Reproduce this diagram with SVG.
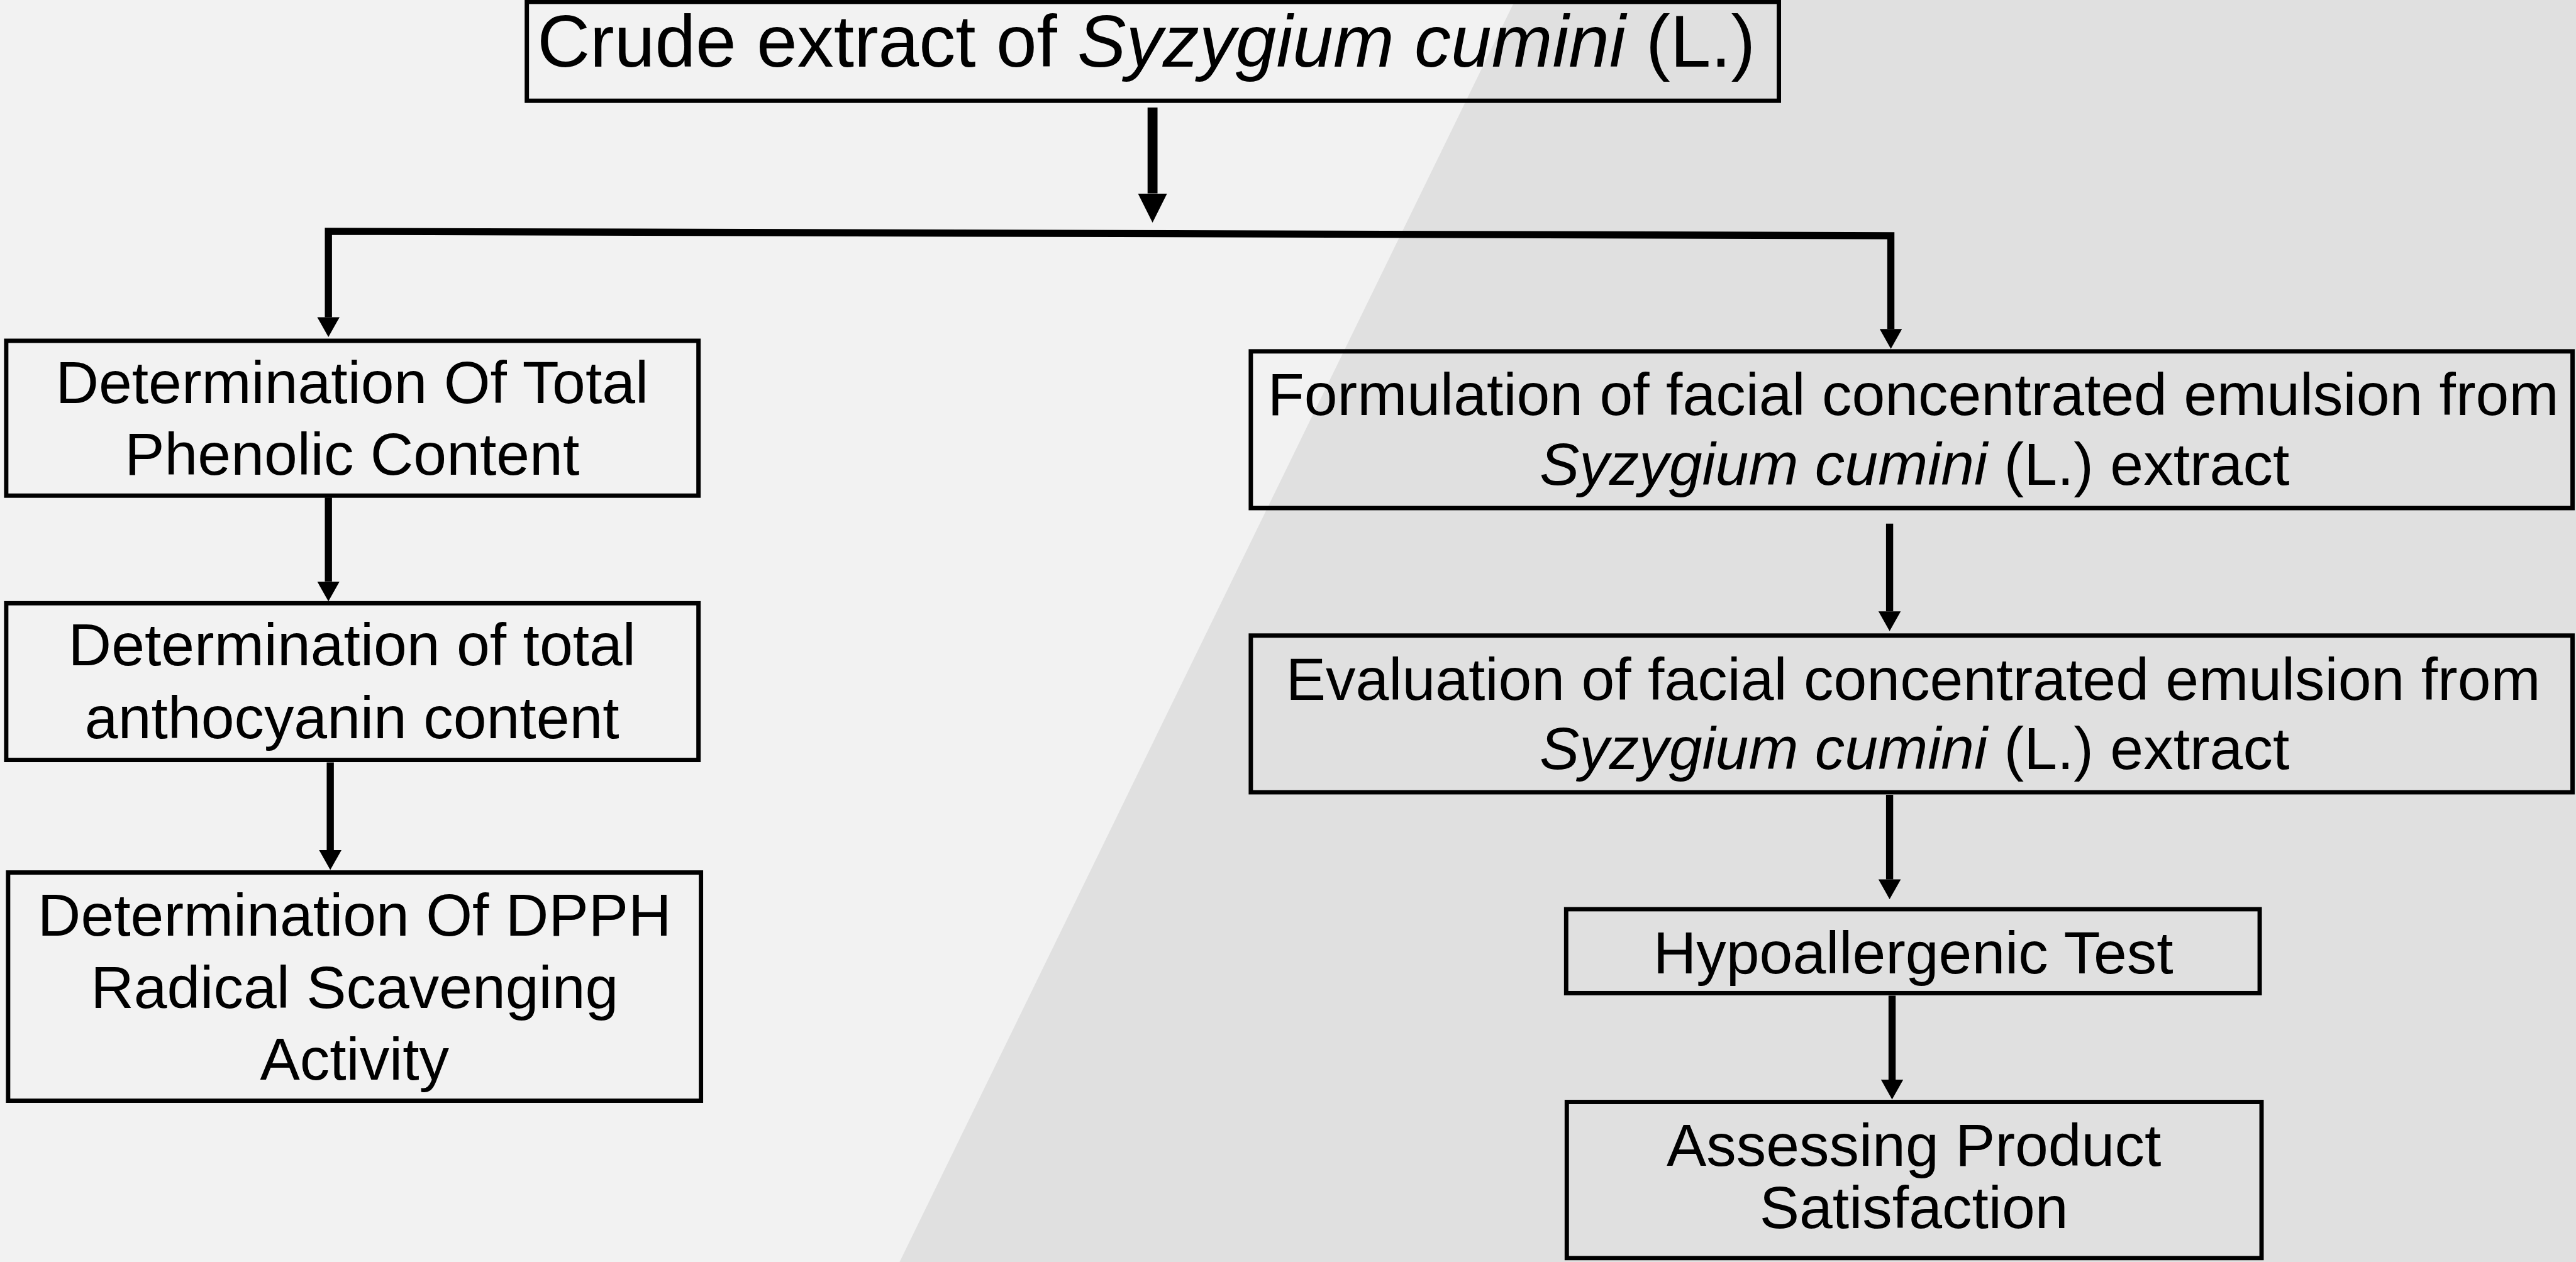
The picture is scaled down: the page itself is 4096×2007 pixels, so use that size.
<svg xmlns="http://www.w3.org/2000/svg" width="4096" height="2007" viewBox="0 0 4096 2007">
<style>
.box{fill:none;stroke:#000;stroke-width:7;stroke-linejoin:miter}
.t{font-family:"Liberation Sans",Arial,sans-serif;font-size:96px;fill:#000;text-anchor:middle}
.title{font-size:117.5px}
.i{font-style:italic}
.c{fill:none;stroke:#000;stroke-width:11.5;stroke-linejoin:miter}
.big{stroke-width:16}
</style>
<defs>
<marker id="ah" viewBox="0 0 32 36" refX="0" refY="18" markerWidth="32" markerHeight="36" markerUnits="userSpaceOnUse" orient="auto-start-reverse">
<path d="M0,0 L32,18 L0,36 z" fill="#000"/>
</marker>
<marker id="ahBig" viewBox="0 0 47 47" refX="0" refY="23.5" markerWidth="47" markerHeight="47" markerUnits="userSpaceOnUse" orient="auto">
<path d="M0,0 L47,23.5 L0,47 z" fill="#000"/>
</marker>
</defs>
<g transform="scale(0.989)">
<g id="background">
<rect x="0" y="0" width="4142" height="2030" fill="#f2f2f2"/>
<polygon points="2436,0 4142,0 4142,2030 1446,2030" fill="#e0e0e0"/>
</g>
<g id="connectors">
<path class="c big" d="M1853,173 V311" marker-end="url(#ahBig)"/>
<path class="c" d="M528,510 V372 L3040,379 V529" marker-start="url(#ah)" marker-end="url(#ah)"/>
<path class="c" d="M528,800 V935" marker-end="url(#ah)"/>
<path class="c" d="M531,1226 V1367" marker-end="url(#ah)"/>
<path class="c" d="M3038,842 V983" marker-end="url(#ah)"/>
<path class="c" d="M3038,1278 V1414" marker-end="url(#ah)"/>
<path class="c" d="M3042,1601 V1736" marker-end="url(#ah)"/>
</g>
<g id="crude">
<rect class="box" x="847" y="3" width="2013" height="159"/>
<text class="t title" x="1843" y="107">Crude extract of <tspan class="i">Syzygium cumini</tspan> (L.)</text>
</g>
<g id="phenolic">
<rect class="box" x="10" y="548" width="1113" height="249"/>
<text class="t" x="566" y="648">Determination Of Total</text>
<text class="t" x="566" y="763">Phenolic Content</text>
</g>
<g id="anthocyanin">
<rect class="box" x="10" y="970" width="1113" height="252"/>
<text class="t" x="566" y="1070">Determination of total</text>
<text class="t" x="566" y="1187">anthocyanin content</text>
</g>
<g id="dpph">
<rect class="box" x="13" y="1403" width="1114" height="367"/>
<text class="t" x="570" y="1505">Determination Of DPPH</text>
<text class="t" x="570" y="1621">Radical Scavenging</text>
<text class="t" x="570" y="1736">Activity</text>
</g>
<g id="formulation">
<rect class="box" x="2011" y="565" width="2125" height="252"/>
<text class="t" x="3076" y="667">Formulation of facial concentrated emulsion from</text>
<text class="t" x="3078" y="780"><tspan class="i">Syzygium cumini</tspan> (L.) extract</text>
</g>
<g id="evaluation">
<rect class="box" x="2011" y="1022" width="2125" height="252"/>
<text class="t" x="3076" y="1125">Evaluation of facial concentrated emulsion from</text>
<text class="t" x="3078" y="1237"><tspan class="i">Syzygium cumini</tspan> (L.) extract</text>
</g>
<g id="hypoallergenic">
<rect class="box" x="2518" y="1462" width="1115" height="135"/>
<text class="t" x="3076" y="1565">Hypoallergenic Test</text>
</g>
<g id="satisfaction">
<rect class="box" x="2519" y="1772" width="1117" height="251"/>
<text class="t" x="3077" y="1875">Assessing Product</text>
<text class="t" x="3077" y="1975">Satisfaction</text>
</g>
</g>
</svg>
